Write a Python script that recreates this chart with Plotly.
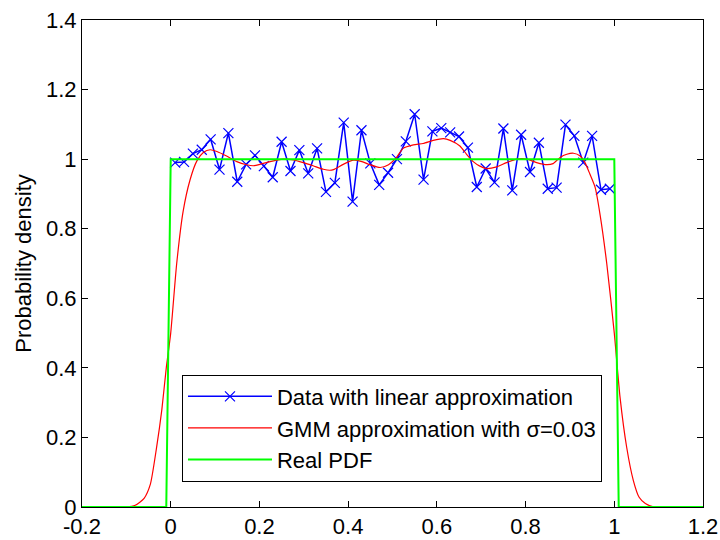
import plotly.graph_objects as go

# Data with linear approximation (blue)
data_x = [0.01, 0.03, 0.05, 0.07, 0.09, 0.11, 0.13, 0.15, 0.17, 0.19,
          0.21, 0.23, 0.25, 0.27, 0.29, 0.31, 0.33, 0.35, 0.37, 0.39,
          0.41, 0.43, 0.45, 0.47, 0.49, 0.51, 0.53, 0.55, 0.57, 0.59,
          0.61, 0.63, 0.65, 0.67, 0.69, 0.71, 0.73, 0.75, 0.77, 0.79,
          0.81, 0.83, 0.85, 0.87, 0.89, 0.91, 0.93, 0.95, 0.97, 0.99]
data_y = [0.990, 0.992, 1.016, 1.027, 1.057, 0.970, 1.075, 0.935, 0.985, 1.011,
          0.980, 0.948, 1.050, 0.966, 1.026, 0.959, 1.031, 0.906, 0.932, 1.105,
          0.878, 1.083, 0.988, 0.926, 0.961, 1.000, 1.051, 1.129, 0.941, 1.080,
          1.089, 1.077, 1.065, 1.033, 0.920, 0.973, 0.933, 1.088, 0.910, 1.070,
          0.963, 1.047, 0.915, 0.918, 1.099, 1.067, 0.990, 1.067, 0.912, 0.915]

# GMM approximation with sigma=0.03 (red)
gmm_x = [-0.2, -0.1, -0.08, -0.06, -0.046, -0.032, -0.02, -0.01, 0.0, 0.0135,
         0.028, 0.0435, 0.059, 0.0735, 0.089, 0.104, 0.126, 0.149, 0.171, 0.186,
         0.201, 0.224, 0.254, 0.276, 0.299, 0.321, 0.344, 0.359, 0.367, 0.389,
         0.412, 0.431, 0.449, 0.472, 0.491, 0.509, 0.524, 0.547, 0.569, 0.592,
         0.615, 0.630, 0.652, 0.667, 0.682, 0.697, 0.712, 0.735, 0.757, 0.780,
         0.803, 0.825, 0.848, 0.862, 0.878, 0.893, 0.908, 0.923, 0.934, 0.945,
         0.957, 0.968, 0.983, 1.0, 1.013, 1.028, 1.043, 1.056, 1.07, 1.09, 1.2]
gmm_y = [0.0, 0.0, 0.005, 0.025, 0.065, 0.17, 0.28, 0.40, 0.50, 0.70,
         0.85, 0.94, 0.995, 1.019, 1.027, 1.022, 1.009, 0.993, 0.984, 0.981,
         0.985, 0.993, 1.0, 0.998, 0.990, 0.981, 0.971, 0.968, 0.970, 0.985,
         0.997, 0.993, 0.984, 0.976, 0.984, 1.005, 1.031, 1.041, 1.045, 1.054,
         1.059, 1.054, 1.038, 1.014, 0.993, 0.980, 0.973, 0.978, 0.990, 1.0,
         1.0, 0.990, 0.984, 0.987, 1.005, 1.014, 1.017, 1.009, 0.990, 0.957,
         0.918, 0.84, 0.70, 0.50, 0.315, 0.171, 0.076, 0.028, 0.01, 0.0, 0.0]

# Real PDF (green)
pdf_x = [-0.2, -0.01, 0.0, 1.0, 1.01, 1.2]
pdf_y = [0.0, 0.0, 1.0, 1.0, 0.0, 0.0]

# Axes ticks
x_ticks = [-0.2, 0, 0.2, 0.4, 0.6, 0.8, 1.0, 1.2]
x_tick_labels = ["-0.2", "0", "0.2", "0.4", "0.6", "0.8", "1", "1.2"]
y_ticks = [0, 0.2, 0.4, 0.6, 0.8, 1.0, 1.2, 1.4]
y_tick_labels = ["0", "0.2", "0.4", "0.6", "0.8", "1", "1.2", "1.4"]

FONT = "Arial, Liberation Sans, sans-serif"
FS = 22

fig = go.Figure()
fig.add_trace(go.Scatter(
    x=data_x, y=data_y, mode="lines+markers",
    name="Data with linear approximation",
    line=dict(color="rgb(0,0,255)", width=1.5),
    marker=dict(symbol="x-thin", size=10, line=dict(color="rgb(0,0,255)", width=1.2)),
))
fig.add_trace(go.Scatter(
    x=gmm_x, y=gmm_y, mode="lines",
    name="GMM approximation with σ=0.03",
    line=dict(color="rgb(255,0,0)", width=1.2, shape="spline", smoothing=0.6),
))
fig.add_trace(go.Scatter(
    x=pdf_x, y=pdf_y, mode="lines",
    name="Real PDF",
    line=dict(color="rgb(0,255,0)", width=2),
))

axis_common = dict(
    showgrid=False, zeroline=False, showline=True, linecolor="black",
    linewidth=1, mirror="allticks", ticks="inside", ticklen=6,
    tickcolor="black", tickwidth=1, automargin=False,
    tickfont=dict(family=FONT, size=FS, color="black"),
)
fig.update_xaxes(range=[-0.2, 1.2], tickvals=x_ticks, ticktext=x_tick_labels,
                 **axis_common)
fig.update_yaxes(range=[0, 1.4], tickvals=y_ticks, ticktext=y_tick_labels,
                 title=dict(text="Probability density", font=dict(family=FONT, size=FS, color="black"),
                            standoff=8),
                 **axis_common)

fig.update_layout(
    width=720, height=540,
    margin=dict(l=82, r=17, t=20, b=33),
    paper_bgcolor="white", plot_bgcolor="white",
    font=dict(family=FONT, size=FS, color="black"),
    showlegend=True,
    legend=dict(
        x=0.161, y=0.272, xanchor="left", yanchor="top",
        bgcolor="white", bordercolor="black", borderwidth=1,
        font=dict(family=FONT, size=FS, color="black"),
        itemwidth=84, tracegroupgap=0,
    ),
)

fig.write_html(
    "out.html",
    config={"displayModeBar": False},
    post_script="document.body.style.margin='0';document.body.style.padding='0';",
)
